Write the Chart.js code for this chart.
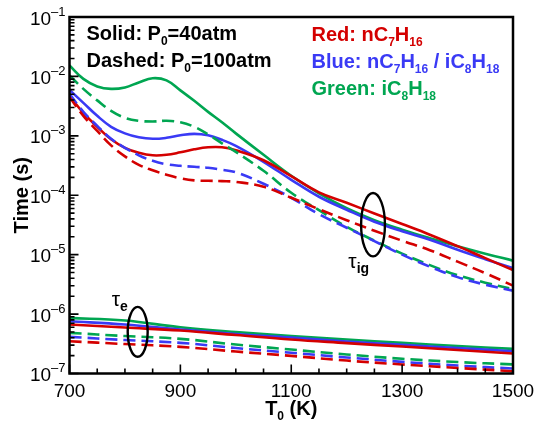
<!DOCTYPE html>
<html>
<head>
<meta charset="utf-8">
<style>
  html, body { margin: 0; padding: 0; background: #ffffff; }
  #wrap { width: 535px; height: 425px; position: relative; }
</style>
<script src="https://cdn.jsdelivr.net/npm/chart.js@4.4.1/dist/chart.umd.min.js"></script>
</head>
<body>
<div id="wrap"><canvas id="c" width="535" height="425"></canvas></div>
<script>
// Initial temperature grid (K) for the ignition delay curves
const T_ig = [700, 725, 750, 775, 800, 825, 850, 875, 900, 925, 950, 975, 1000,
              1050, 1100, 1150, 1200, 1250, 1300, 1350, 1400, 1450, 1500];

// Ignition delay tau_ig (s): solid = 40 atm, dashed = 100 atm
const igRed40 = [4.70e-3, 2.44e-3, 1.42e-3, 8.73e-4, 6.28e-4, 5.18e-4, 4.70e-4, 4.79e-4, 5.28e-4,
                 5.93e-4, 6.41e-4, 6.41e-4, 5.71e-4, 3.88e-4, 2.09e-4, 1.12e-4, 7.48e-5, 4.92e-5,
                 3.28e-5, 2.17e-5, 1.39e-5, 8.73e-6, 5.49e-6];
const igBlue40 = [5.93e-3, 3.59e-3, 2.17e-3, 1.42e-3, 1.10e-3, 9.44e-4, 8.91e-4, 9.26e-4, 1.02e-3,
                  1.08e-3, 1.02e-3, 8.57e-4, 6.79e-4, 3.66e-4, 1.82e-4, 9.44e-5, 5.71e-5, 3.59e-5,
                  2.48e-5, 1.79e-5, 1.21e-5, 8.40e-6, 5.93e-6];
const igGreen40 = [1.53e-2, 9.08e-3, 6.79e-3, 6.17e-3, 6.53e-3, 7.93e-3, 9.33e-3, 8.57e-3, 5.82e-3,
                   3.88e-3, 2.53e-3, 1.69e-3, 1.10e-3, 4.79e-4, 2.13e-4, 1.08e-4, 6.05e-5, 3.80e-5,
                   2.63e-5, 1.89e-5, 1.39e-5, 1.04e-5, 7.93e-6];
const igRed100 = [4.52e-3, 2.17e-3, 1.21e-3, 6.92e-4, 4.52e-4, 3.25e-4, 2.63e-4, 2.21e-4, 1.93e-4,
                  1.78e-4, 1.75e-4, 1.73e-4, 1.68e-4, 1.39e-4, 9.08e-5, 5.82e-5, 3.80e-5, 2.53e-5,
                  1.72e-5, 1.19e-5, 7.63e-6, 4.89e-6, 3.01e-6];
const igBlue100 = [5.08e-3, 2.53e-3, 1.47e-3, 8.91e-4, 6.28e-4, 4.70e-4, 3.80e-4, 3.32e-4, 3.13e-4,
                   3.01e-4, 2.90e-4, 2.68e-4, 2.44e-4, 1.56e-4, 9.08e-5, 4.79e-5, 2.84e-5, 1.69e-5,
                   1.00e-5, 6.28e-6, 4.19e-6, 3.13e-6, 2.48e-6];
const igGreen100 = [1.04e-2, 6.17e-3, 3.95e-3, 2.63e-3, 2.01e-3, 1.79e-3, 1.74e-3, 1.79e-3, 1.69e-3,
                    1.42e-3, 1.06e-3, 7.48e-4, 5.38e-4, 2.58e-4, 1.10e-4, 5.60e-5, 2.95e-5, 1.72e-5,
                    1.04e-5, 6.66e-6, 4.52e-6, 3.38e-6, 2.63e-6];

// Initial temperature grid (K) for the excitation time curves
const T_e = [700, 800, 900, 1000, 1100, 1200, 1300, 1400, 1500];

// Excitation time tau_e (s): solid = 40 atm, dashed = 100 atm
const eRed40   = [6.66e-7, 5.93e-7, 5.28e-7, 4.44e-7, 3.73e-7, 3.25e-7, 2.84e-7, 2.48e-7, 2.17e-7];
const eBlue40  = [7.57e-7, 6.66e-7, 5.49e-7, 4.61e-7, 4.03e-7, 3.45e-7, 3.04e-7, 2.68e-7, 2.37e-7];
const eGreen40 = [8.63e-7, 7.78e-7, 6.00e-7, 4.98e-7, 4.27e-7, 3.73e-7, 3.28e-7, 2.90e-7, 2.60e-7];
const eRed100   = [3.49e-7, 3.13e-7, 2.81e-7, 2.34e-7, 1.98e-7, 1.65e-7, 1.42e-7, 1.24e-7, 1.09e-7];
const eBlue100  = [4.14e-7, 3.66e-7, 3.28e-7, 2.68e-7, 2.23e-7, 1.86e-7, 1.57e-7, 1.36e-7, 1.21e-7];
const eGreen100 = [4.83e-7, 4.27e-7, 3.83e-7, 3.07e-7, 2.53e-7, 2.09e-7, 1.77e-7, 1.56e-7, 1.42e-7];

// Axis ticks
const xMajorTicks = [700, 900, 1100, 1300, 1500];
const xMinorStep = 50;
const yDecades = [-7, -6, -5, -4, -3, -2, -1];

// Loops marking the two groups of curves (temperature span, time span)
const loopIgT = [1226, 1269];
const loopIgTime = [1.09e-4, 9.35e-6];
const loopET = [805, 841];
const loopETime = [1.32e-6, 1.91e-7];
// Anchors of the tau labels (left edge temperature, baseline time)
const labelIg = [1203, 6.05e-6];
const labelE = [776, 1.35e-6];

const RED = 'rgb(212,0,0)';
const BLUE = 'rgb(58,58,245)';
const GREEN = 'rgb(0,166,81)';
const DASH = [12, 6];

function pts(xs, ys) { return xs.map((x, i) => ({ x: x, y: ys[i] })); }
function series(xs, ys, color, dashed) {
  return {
    data: pts(xs, ys),
    borderColor: color,
    borderWidth: 2.6,
    borderDash: dashed ? DASH : [],
    pointRadius: 0,
    fill: false,
    tension: 0.4
  };
}

const datasets = [
  series(T_ig, igRed100, RED, true),
  series(T_ig, igBlue100, BLUE, true),
  series(T_ig, igGreen100, GREEN, true),
  series(T_ig, igRed40, RED, false),
  series(T_ig, igBlue40, BLUE, false),
  series(T_ig, igGreen40, GREEN, false),
  series(T_e, eRed100, RED, true),
  series(T_e, eBlue100, BLUE, true),
  series(T_e, eGreen100, GREEN, true),
  series(T_e, eRed40, RED, false),
  series(T_e, eBlue40, BLUE, false),
  series(T_e, eGreen40, GREEN, false)
];

const SANS = '"Liberation Sans", Arial, Helvetica, sans-serif';

// Draws a run of text pieces: [text, font, color, baseline shift]
function richText(ctx, x, y, parts, align) {
  let w = 0;
  parts.forEach(p => { ctx.font = p[1]; w += ctx.measureText(p[0]).width; });
  let cx = align === 'center' ? x - w / 2 : (align === 'right' ? x - w : x);
  ctx.textAlign = 'left';
  ctx.textBaseline = 'alphabetic';
  parts.forEach(p => {
    ctx.font = p[1];
    ctx.fillStyle = p[2];
    ctx.fillText(p[0], cx, y + (p[3] || 0));
    cx += ctx.measureText(p[0]).width;
  });
  return w;
}

const framePlugin = {
  id: 'frame',
  afterDatasetsDraw(chart) {
    const ctx = chart.ctx;
    const a = chart.chartArea;
    const xs = chart.scales.x;
    const ys = chart.scales.y;
    ctx.save();

    // Border
    ctx.strokeStyle = '#000';
    ctx.lineWidth = 2.5;
    ctx.strokeRect(a.left, a.top, a.right - a.left, a.bottom - a.top);

    // X ticks (inside) and labels
    ctx.lineWidth = 1.6;
    ctx.beginPath();
    for (let v = xs.min; v <= xs.max; v += xMinorStep) {
      const px = xs.getPixelForValue(v);
      const len = xMajorTicks.includes(v) ? 9 : 5;
      ctx.moveTo(px, a.bottom);
      ctx.lineTo(px, a.bottom - len);
    }
    ctx.stroke();
    xMajorTicks.forEach(v => {
      const px = xs.getPixelForValue(v);
      richText(ctx, px, a.bottom + 23.5, [[String(v), '19px ' + SANS, '#000', 0]], 'center');
    });

    // Y ticks (inside, log decades with minor ticks) and labels
    ctx.beginPath();
    yDecades.forEach(d => {
      const py = ys.getPixelForValue(Math.pow(10, d));
      ctx.moveTo(a.left, py);
      ctx.lineTo(a.left + 9, py);
      if (d < -1) {
        for (let k = 2; k <= 9; k++) {
          const pm = ys.getPixelForValue(k * Math.pow(10, d));
          ctx.moveTo(a.left, pm);
          ctx.lineTo(a.left + 5, pm);
        }
      }
    });
    ctx.stroke();
    yDecades.forEach(d => {
      const py = ys.getPixelForValue(Math.pow(10, d));
      const exp = String(d).replace('-', '\u2013');
      ctx.font = '13px ' + SANS;
      const ew = ctx.measureText(exp).width;
      ctx.font = '19px ' + SANS;
      const bw = ctx.measureText('10').width;
      const right = a.left - 4;
      richText(ctx, right - ew - bw, py + 7.5, [
        ['10', '19px ' + SANS, '#000', 0],
        [exp, '13px ' + SANS, '#000', -9]
      ], 'left');
    });

    // Axis titles
    richText(ctx, (a.left + a.right) / 2, a.bottom + 41, [
      ['T', 'bold 20px ' + SANS, '#000', 0],
      ['0', 'bold 12px ' + SANS, '#000', 5],
      [' (K)', 'bold 20px ' + SANS, '#000', 0]
    ], 'center');
    ctx.save();
    ctx.translate(27.5, (a.top + a.bottom) / 2);
    ctx.rotate(-Math.PI / 2);
    richText(ctx, 0, 0, [['Time (s)', 'bold 20px ' + SANS, '#000', 0]], 'center');
    ctx.restore();

    // Pressure key
    const B20 = 'bold 20px ' + SANS;
    const B12 = 'bold 12px ' + SANS;
    richText(ctx, a.left + 17, a.top + 23, [
      ['Solid: P', B20, '#000', 0], ['0', B12, '#000', 5], ['=40atm', B20, '#000', 0]
    ], 'left');
    richText(ctx, a.left + 17, a.top + 49.5, [
      ['Dashed: P', B20, '#000', 0], ['0', B12, '#000', 5], ['=100atm', B20, '#000', 0]
    ], 'left');

    // Fuel key
    const lx = a.left + 242;
    richText(ctx, lx, a.top + 23.5, [
      ['Red: nC', B20, RED, 0], ['7', B12, RED, 5], ['H', B20, RED, 0], ['16', B12, RED, 5]
    ], 'left');
    richText(ctx, lx, a.top + 50.5, [
      ['Blue: nC', B20, BLUE, 0], ['7', B12, BLUE, 5], ['H', B20, BLUE, 0], ['16', B12, BLUE, 5],
      [' / iC', B20, BLUE, 0], ['8', B12, BLUE, 5], ['H', B20, BLUE, 0], ['18', B12, BLUE, 5]
    ], 'left');
    richText(ctx, lx, a.top + 77.5, [
      ['Green: iC', B20, GREEN, 0], ['8', B12, GREEN, 5], ['H', B20, GREEN, 0], ['18', B12, GREEN, 5]
    ], 'left');

    // Loops around the curve groups
    function loop(Ts, ts) {
      const x0 = xs.getPixelForValue(Ts[0]), x1 = xs.getPixelForValue(Ts[1]);
      const y0 = ys.getPixelForValue(ts[0]), y1 = ys.getPixelForValue(ts[1]);
      ctx.beginPath();
      ctx.ellipse((x0 + x1) / 2, (y0 + y1) / 2, Math.abs(x1 - x0) / 2, Math.abs(y1 - y0) / 2, 0, 0, Math.PI * 2);
      ctx.strokeStyle = '#000';
      ctx.lineWidth = 2.4;
      ctx.stroke();
    }
    loop(loopIgT, loopIgTime);
    loop(loopET, loopETime);

    richText(ctx, xs.getPixelForValue(labelIg[0]), ys.getPixelForValue(labelIg[1]), [
      ['\u03C4', '21px ' + SANS, '#000', 0], ['ig', 'bold 14px ' + SANS, '#000', 5]
    ], 'left');
    richText(ctx, xs.getPixelForValue(labelE[0]), ys.getPixelForValue(labelE[1]), [
      ['\u03C4', '21px ' + SANS, '#000', 0], ['e', 'bold 14px ' + SANS, '#000', 5]
    ], 'left');

    ctx.restore();
  }
};

new Chart(document.getElementById('c'), {
  type: 'line',
  data: { datasets: datasets },
  options: {
    responsive: false,
    animation: false,
    devicePixelRatio: 1,
    layout: { padding: { left: 69.5, right: 22, top: 17, bottom: 51.5 } },
    plugins: { legend: { display: false }, tooltip: { enabled: false } },
    scales: {
      x: { type: 'linear', min: 700, max: 1500, display: false },
      y: { type: 'logarithmic', min: 1e-7, max: 1e-1, display: false }
    }
  },
  plugins: [framePlugin]
});
</script>
</body>
</html>
